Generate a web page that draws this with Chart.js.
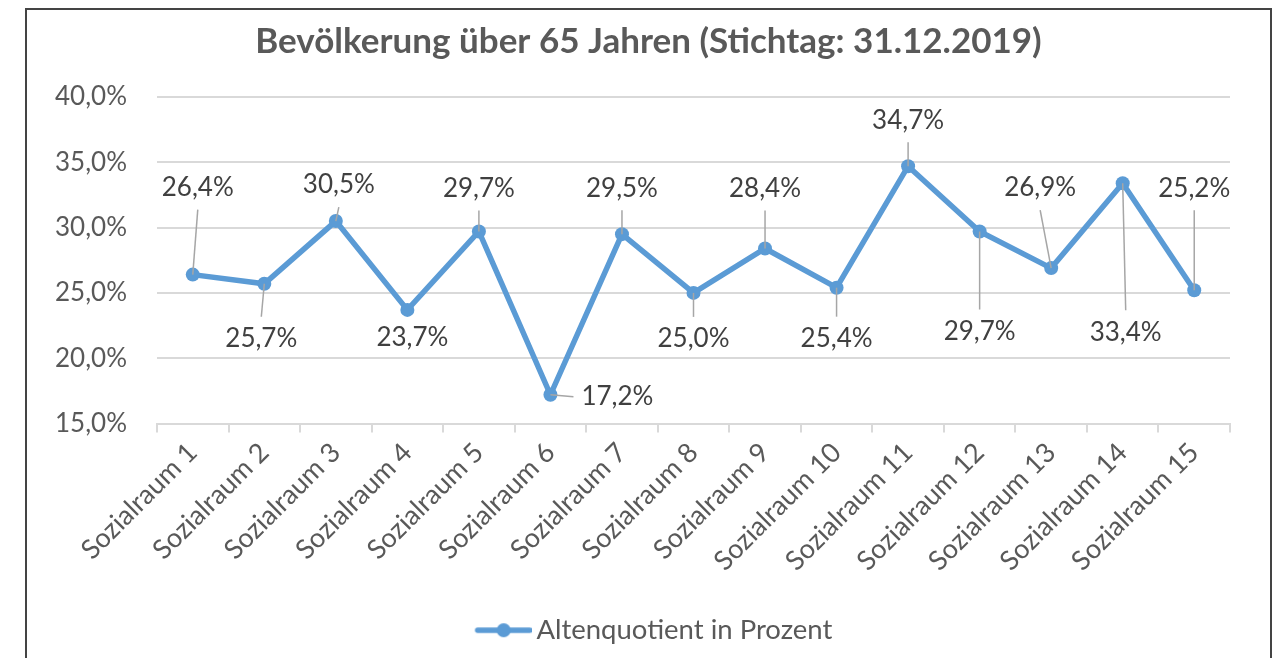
<!DOCTYPE html>
<html>
<head>
<meta charset="utf-8">
<title>Bevölkerung über 65 Jahren</title>
<script src="https://cdn.jsdelivr.net/npm/chart.js@4.4.1/dist/chart.umd.min.js"></script>
<style>
  html, body { margin: 0; padding: 0; background: #fff; }
  #wrap { position: relative; width: 1282px; height: 658px; overflow: hidden; }
  #chart { position: absolute; left: 0; top: 0; }
  #frame { position: absolute; left: 25px; top: 8px; width: 1243px; height: 720px; border: 2px solid #444; pointer-events: none; }
</style>
</head>
<body>
<div id="wrap">
  <canvas id="chart" width="1282" height="658"></canvas>
  <div id="frame"></div>
</div>
<script>
const categories = [
    'Sozialraum 1', 'Sozialraum 2', 'Sozialraum 3', 'Sozialraum 4', 'Sozialraum 5',
    'Sozialraum 6', 'Sozialraum 7', 'Sozialraum 8', 'Sozialraum 9', 'Sozialraum 10',
    'Sozialraum 11', 'Sozialraum 12', 'Sozialraum 13', 'Sozialraum 14', 'Sozialraum 15'
];
const altenquotient = [26.4, 25.7, 30.5, 23.7, 29.7, 17.2, 29.5, 25.0, 28.4, 25.4, 34.7, 29.7, 26.9, 33.4, 25.2];
const yTicks = [15, 20, 25, 30, 35, 40];

// where each data label sits, relative to its point (px)
const labelOffsets = [
    [5, -87], [-3, 55], [3, -36], [5, 28], [0, -43],
    [67, 2], [0, -46], [0, 46], [0, -60], [0, 51],
    [0, -46], [0, 100], [-11, -80], [3, 149], [0, -102]
];

const FONT = 'Lato';
const BLUE = '#5B9BD5';

function fmt(v) {
    return v.toFixed(1).replace('.', ',') + '%';
}

// legend icon: line with a dot in the middle
const legendIcon = document.createElement('canvas');
legendIcon.width = 76;
legendIcon.height = 16;
(function () {
    const c = legendIcon.getContext('2d');
    c.strokeStyle = BLUE;
    c.lineWidth = 5.5;
    c.lineCap = 'round';
    c.beginPath();
    c.moveTo(22, 8);
    c.lineTo(74, 8);
    c.stroke();
    c.fillStyle = BLUE;
    c.beginPath();
    c.arc(48, 8, 7, 0, Math.PI * 2);
    c.fill();
})();

// title and legend are centred on the whole frame, not the plot
const centerOnFrame = {
    id: 'centerOnFrame',
    afterLayout(chart) {
        [chart.titleBlock, chart.legend].forEach((b) => {
            b.left += 15;
            b.right += 15;
        });
    }
};

const pointLabels = {
    id: 'pointLabels',
    afterDatasetsDraw(chart) {
        const ctx = chart.ctx;
        const meta = chart.getDatasetMeta(0);
        ctx.save();
        ctx.font = '26px ' + FONT;
        ctx.textAlign = 'center';
        ctx.textBaseline = 'middle';
        meta.data.forEach((pt, i) => {
            const [dx, dy] = labelOffsets[i];
            const lx = pt.x + dx;
            const ly = pt.y + dy;
            const text = fmt(altenquotient[i]);
            const w = ctx.measureText(text).width;
            let ex, ey;
            if (Math.abs(dx) > Math.abs(dy)) {
                ex = lx - Math.sign(dx) * (w / 2 + 8);
                ey = ly;
            } else {
                ex = lx;
                ey = ly - Math.sign(dy) * 22;
            }
            if (Math.hypot(ex - pt.x, ey - pt.y) > 10) {
                ctx.strokeStyle = '#a6a6a6';
                ctx.lineWidth = 1.5;
                ctx.beginPath();
                ctx.moveTo(pt.x, pt.y);
                ctx.lineTo(ex, ey);
                ctx.stroke();
            }
            ctx.fillStyle = '#404040';
            ctx.fillText(text, lx, ly);
        });
        ctx.restore();
    }
};

new Chart(document.getElementById('chart'), {
    type: 'line',
    data: {
        labels: categories,
        datasets: [{
            label: 'Altenquotient in Prozent',
            data: altenquotient,
            borderColor: BLUE,
            backgroundColor: BLUE,
            borderWidth: 5.5,
            pointRadius: 7,
            pointBorderWidth: 0,
            pointBackgroundColor: BLUE,
            tension: 0,
            fill: false,
        }],
    },
    options: {
        responsive: false,
        animation: false,
        devicePixelRatio: 1,
        layout: { padding: { left: 37, right: 52, top: 0, bottom: 4 } },
        scales: {
            x: {
                offset: true,
                grid: { offset: true, drawOnChartArea: false, drawTicks: true, tickLength: 9, color: '#d9d9d9', lineWidth: 2 },
                border: { color: '#d9d9d9', width: 2 },
                ticks: {
                    autoSkip: false,
                    maxRotation: 45,
                    minRotation: 45,
                    padding: 4,
                    color: '#595959',
                    font: { family: FONT, size: 27 },
                },
                afterFit: (s) => { s.height = 184; },
            },
            y: {
                min: 15,
                max: 40,
                afterBuildTicks: (s) => { s.ticks = yTicks.map(v => ({ value: v })); },
                grid: { color: '#d9d9d9', lineWidth: 2, drawTicks: false },
                border: { display: false },
                ticks: {
                    padding: 30,
                    color: '#595959',
                    font: { family: FONT, size: 26 },
                    callback: (v) => fmt(v),
                },
                afterFit: (s) => { s.width = 120; },
            },
        },
        plugins: {
            title: {
                display: true,
                text: 'Bevölkerung über 65 Jahren (Stichtag: 31.12.2019)',
                color: '#595959',
                font: { family: FONT, size: 35, weight: 'bold' },
                padding: { top: 21, bottom: 34 },
            },
            legend: {
                position: 'bottom',
                labels: {
                    usePointStyle: true,
                    pointStyle: legendIcon,
                    pointStyleWidth: 58,
                    color: '#595959',
                    font: { family: FONT, size: 27.5 },
                    padding: 9,
                },
            },
            tooltip: { enabled: false },
        },
    },
    plugins: [centerOnFrame, pointLabels],
});
</script>
</body>
</html>
